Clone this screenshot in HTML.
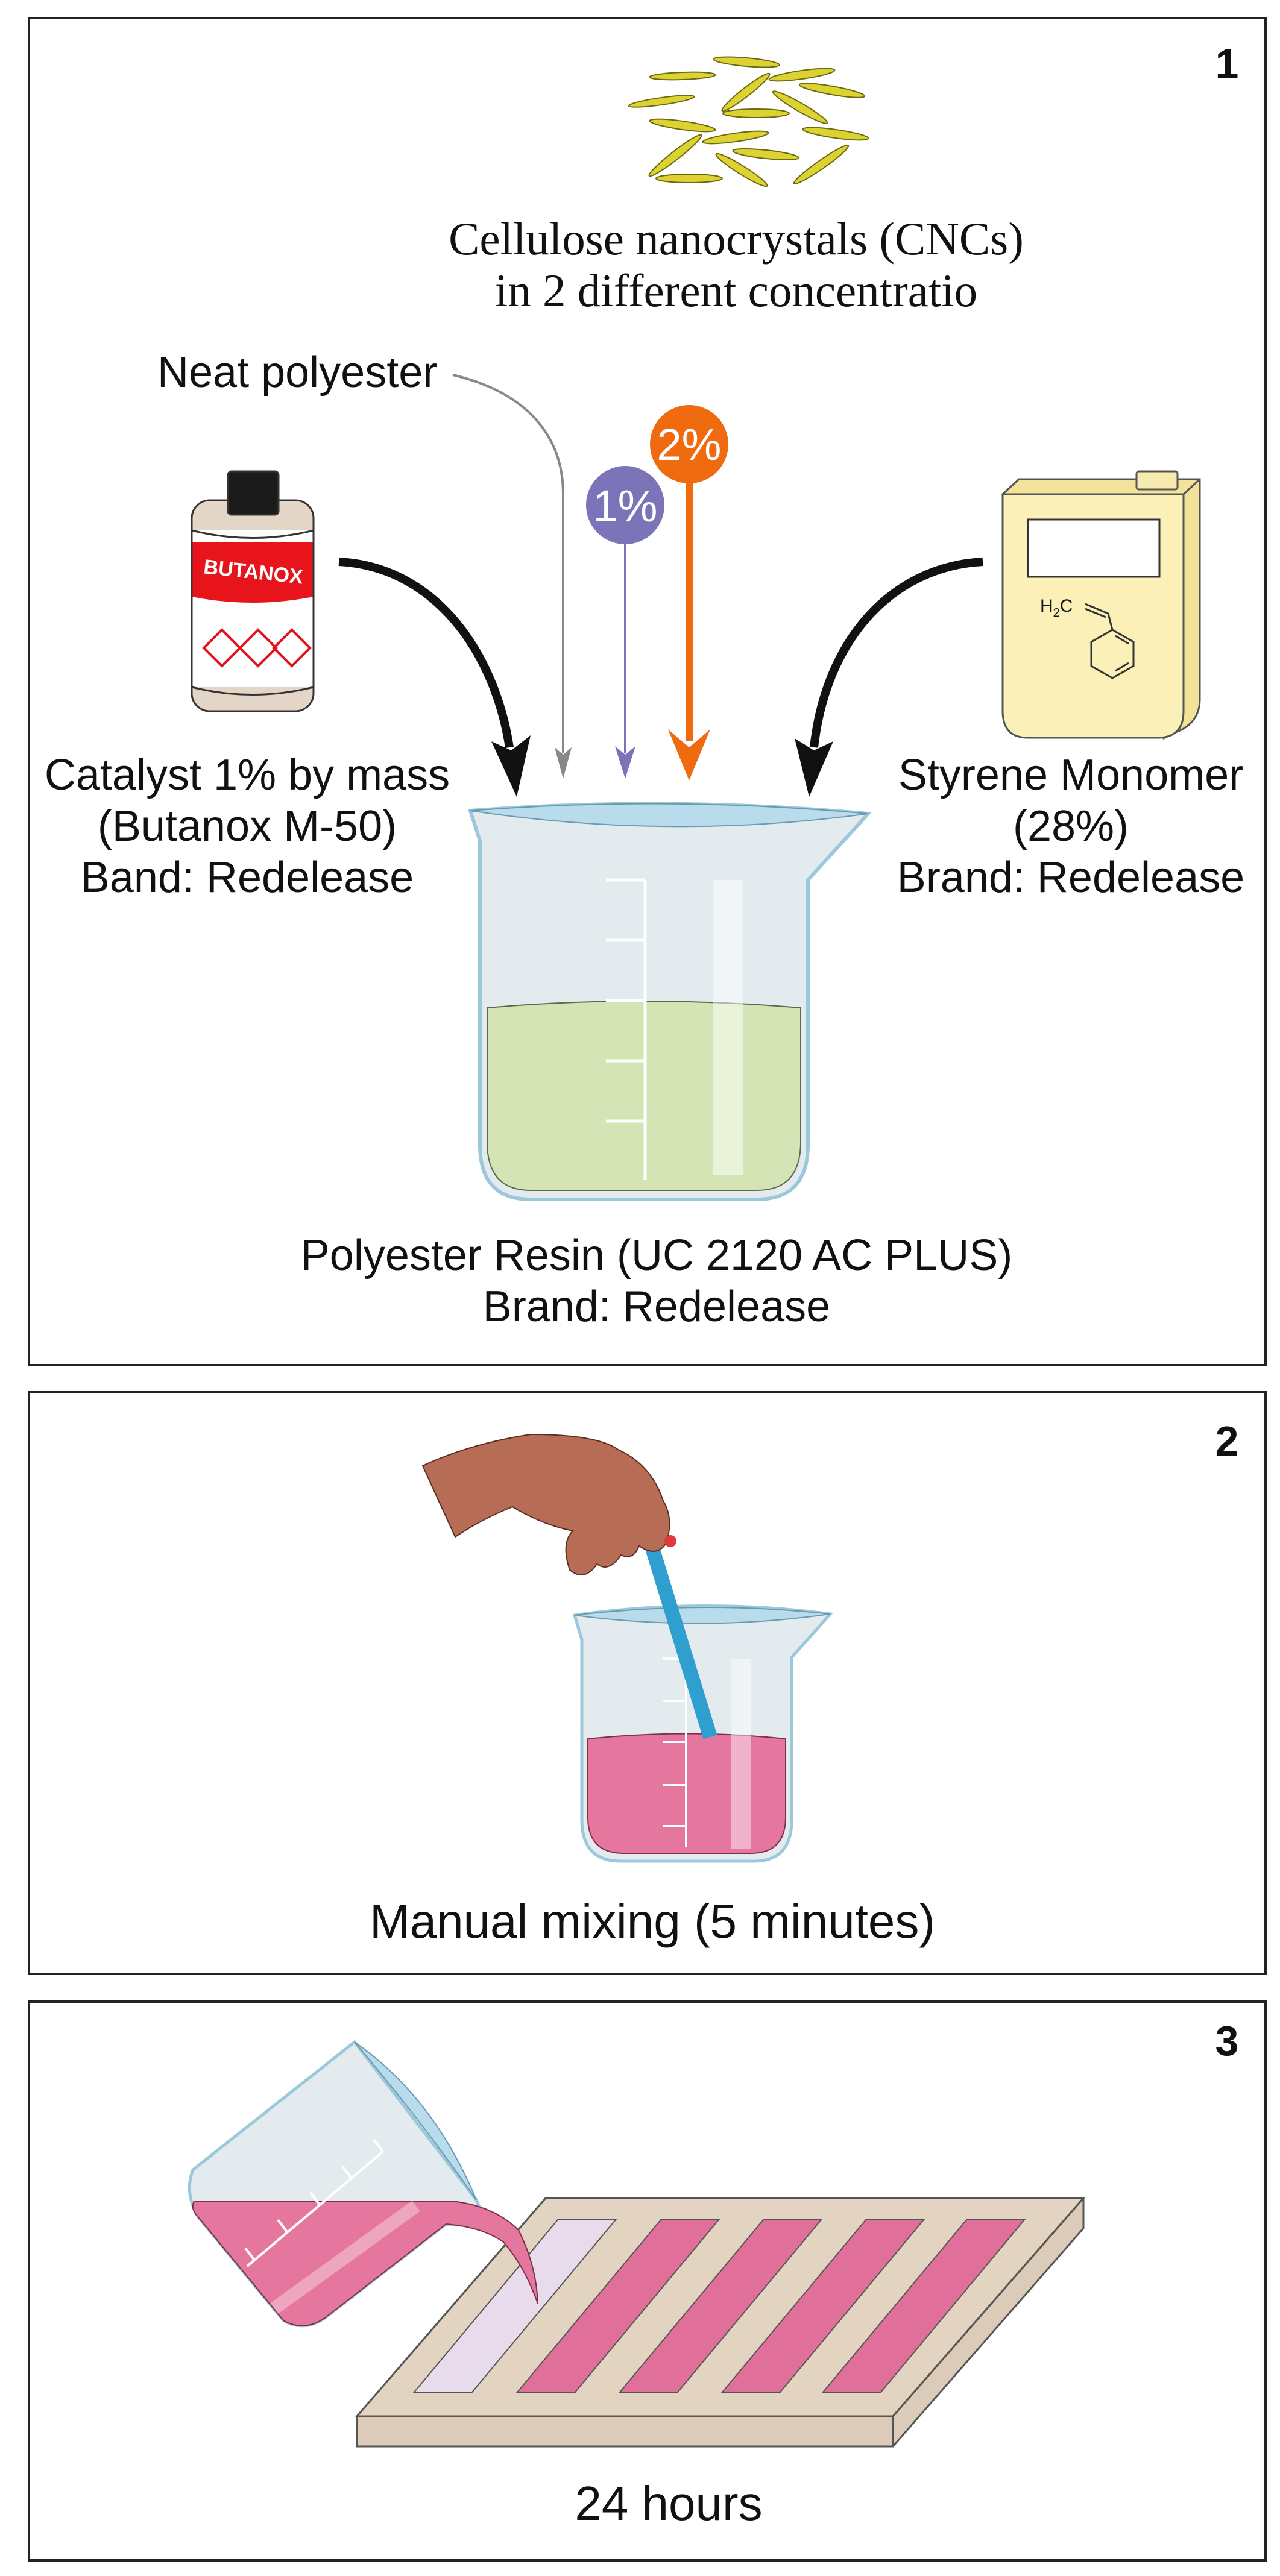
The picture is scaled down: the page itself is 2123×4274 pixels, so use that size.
<!DOCTYPE html>
<html><head><meta charset="utf-8"><style>
html,body{margin:0;padding:0;background:#fff}
svg{display:block}
.s{font-family:"Liberation Sans",Arial,sans-serif;fill:#111}
.r{font-family:"Liberation Serif","Times New Roman",serif;fill:#111}
</style></head><body>
<svg width="2123" height="4274" viewBox="0 0 2123 4274" xmlns="http://www.w3.org/2000/svg">
<!-- panels -->
<rect x="48" y="30" width="2051" height="2235" fill="#fff" stroke="#222" stroke-width="4"/>
<rect x="48" y="2310" width="2051" height="965" fill="#fff" stroke="#222" stroke-width="4"/>
<rect x="48" y="3321" width="2051" height="927" fill="#fff" stroke="#222" stroke-width="4"/>
<text x="2035" y="130" class="s" font-size="70" font-weight="bold" text-anchor="middle">1</text>
<text x="2035" y="2415" class="s" font-size="70" font-weight="bold" text-anchor="middle">2</text>
<text x="2035" y="3410" class="s" font-size="70" font-weight="bold" text-anchor="middle">3</text>

<!-- CNCs -->
<g fill="#dcd232" stroke="#6b6a10" stroke-width="2">
<ellipse cx="1238" cy="103" rx="55" ry="7" transform="rotate(5 1238 103)"/>
<ellipse cx="1132" cy="126" rx="55" ry="6" transform="rotate(-2 1132 126)"/>
<ellipse cx="1330" cy="124" rx="55" ry="7" transform="rotate(-8 1330 124)"/>
<ellipse cx="1237" cy="153" rx="50" ry="7" transform="rotate(-38 1237 153)"/>
<ellipse cx="1380" cy="150" rx="55" ry="7" transform="rotate(10 1380 150)"/>
<ellipse cx="1097" cy="168" rx="55" ry="6" transform="rotate(-8 1097 168)"/>
<ellipse cx="1254" cy="188" rx="55" ry="7"/>
<ellipse cx="1327" cy="178" rx="52" ry="7" transform="rotate(30 1327 178)"/>
<ellipse cx="1132" cy="208" rx="55" ry="7" transform="rotate(8 1132 208)"/>
<ellipse cx="1220" cy="228" rx="55" ry="7" transform="rotate(-8 1220 228)"/>
<ellipse cx="1386" cy="222" rx="55" ry="7" transform="rotate(8 1386 222)"/>
<ellipse cx="1120" cy="258" rx="55" ry="7" transform="rotate(-38 1120 258)"/>
<ellipse cx="1270" cy="256" rx="55" ry="7" transform="rotate(6 1270 256)"/>
<ellipse cx="1230" cy="282" rx="50" ry="7" transform="rotate(32 1230 282)"/>
<ellipse cx="1362" cy="273" rx="55" ry="7" transform="rotate(-35 1362 273)"/>
<ellipse cx="1143" cy="296" rx="55" ry="7"/>
</g>
<text x="1221" y="422" class="r" font-size="77" text-anchor="middle">Cellulose nanocrystals (CNCs)</text>
<text x="1221" y="508" class="r" font-size="77" text-anchor="middle">in 2 different concentratio</text>

<text x="261" y="642" class="s" font-size="72">Neat polyester</text>
<!-- gray arrow -->
<path d="M751 622 C870 650 934 720 934 820 L934 1250" fill="none" stroke="#888" stroke-width="4"/>
<path d="M920 1240 L934 1292 L948 1240 L934 1252 Z" fill="#888"/>
<!-- purple -->
<line x1="1037" y1="880" x2="1037" y2="1250" stroke="#7b74b8" stroke-width="4"/>
<path d="M1020 1238 L1037 1292 L1054 1238 L1037 1252 Z" fill="#7b74b8"/>
<circle cx="1037" cy="838" r="65" fill="#7b74b8"/>
<text x="1037" y="865" class="s" font-size="74" style="fill:#fff" text-anchor="middle">1%</text>
<!-- orange -->
<line x1="1143" y1="780" x2="1143" y2="1230" stroke="#f06a10" stroke-width="12"/>
<path d="M1108 1210 L1143 1295 L1178 1210 L1143 1240 Z" fill="#f06a10"/>
<circle cx="1143" cy="737" r="65" fill="#f06a10"/>
<text x="1143" y="763" class="s" font-size="74" style="fill:#fff" text-anchor="middle">2%</text>

<!-- bottle -->
<g stroke="#333" stroke-width="3">
<rect x="318" y="830" width="202" height="350" rx="30" fill="#e3d6c6"/>
<rect x="318" y="880" width="202" height="260" fill="#fff" stroke="none"/>
<path d="M318 900 L520 900 L520 990 Q419 1010 318 990 Z" fill="#e8141c" stroke="none"/>
<path d="M318 880 Q419 905 520 880" fill="none"/>
<path d="M318 1140 Q419 1165 520 1140" fill="none"/>
<line x1="318" y1="880" x2="318" y2="1140"/><line x1="520" y1="880" x2="520" y2="1140"/>
<rect x="378" y="782" width="84" height="72" rx="6" fill="#1b1b1b"/>
</g>
<text x="419" y="960" class="s" font-size="34" font-weight="bold" style="fill:#fff" text-anchor="middle" transform="rotate(6 419 960)">BUTANOX</text>
<g fill="none" stroke="#e0141c" stroke-width="4">
<path d="M338 1075 L368 1045 L398 1075 L368 1105 Z"/>
<path d="M398 1075 L428 1045 L458 1075 L428 1105 Z"/>
<path d="M458 1075 L488 1045 L518 1075 L488 1105 Z" transform="translate(-4 0)"/>
</g>

<!-- black curved arrows -->
<path d="M562 932 C720 940 820 1080 845 1240" fill="none" stroke="#111" stroke-width="14"/>
<path d="M815 1230 L857 1322 L880 1220 L848 1245 Z" fill="#111"/>
<path d="M1630 932 C1480 940 1370 1060 1350 1240" fill="none" stroke="#111" stroke-width="14"/>
<path d="M1318 1225 L1342 1322 L1382 1230 L1350 1245 Z" fill="#111"/>

<!-- canister -->
<g stroke="#555" stroke-width="3">
<path d="M1663 820 L1690 795 L1990 795 L1990 1160 Q1990 1200 1950 1215 L1930 1225 Z" fill="#f3e39a"/>
<rect x="1885" y="782" width="68" height="30" rx="4" fill="#f7ebb0"/>
<path d="M1663 820 L1963 820 L1963 1180 Q1963 1224 1920 1224 L1705 1224 Q1663 1224 1663 1180 Z" fill="#fbf0b8"/>
<line x1="1963" y1="820" x2="1990" y2="795"/>
<rect x="1705" y="862" width="218" height="95" fill="#fff" stroke="#333"/>
</g>
<text x="1725" y="1015" class="s" font-size="30">H<tspan font-size="20" dy="8">2</tspan><tspan dy="-8">C</tspan></text>
<g fill="none" stroke="#333" stroke-width="3">
<path d="M1800 1002 L1838 1018 L1845 1045"/>
<path d="M1800 1010 L1834 1024"/>
<path d="M1845 1045 L1880 1065 L1880 1105 L1845 1125 L1810 1105 L1810 1065 Z"/>
<path d="M1850 1055 L1872 1068 M1872 1100 L1850 1113"/>
</g>

<!-- side texts -->
<g class="s" font-size="72" text-anchor="middle">
<text x="410" y="1310">Catalyst 1% by mass</text>
<text x="410" y="1395">(Butanox M-50)</text>
<text x="410" y="1480">Band: Redelease</text>
<text x="1776" y="1310">Styrene Monomer</text>
<text x="1776" y="1395">(28%)</text>
<text x="1776" y="1480">Brand: Redelease</text>
</g>

<!-- beaker 1 -->
<g>
<path d="M780 1345 L796 1395 L796 1900 Q796 1990 880 1990 L1255 1990 Q1340 1990 1340 1900 L1340 1460 L1440 1350 Q1110 1320 780 1345 Z" fill="#e4ebef" stroke="#9cc8dc" stroke-width="6"/>
<path d="M808 1672 Q1060 1650 1328 1672 L1328 1895 Q1328 1975 1255 1975 L880 1975 Q808 1975 808 1895 Z" fill="#d4e4b4" stroke="#5d6a4a" stroke-width="2"/>
<path d="M780 1345 Q1110 1320 1440 1350 Q1110 1395 780 1345 Z" fill="#b9dcec" stroke="#6a9bb0" stroke-width="2"/>
<rect x="1183" y="1460" width="50" height="490" fill="#fff" opacity="0.5"/>
<g stroke="#fff" stroke-width="5" fill="none">
<line x1="1070" y1="1460" x2="1070" y2="1958"/>
<line x1="1005" y1="1460" x2="1070" y2="1460"/>
<line x1="1005" y1="1560" x2="1070" y2="1560"/>
<line x1="1005" y1="1660" x2="1070" y2="1660"/>
<line x1="1005" y1="1760" x2="1070" y2="1760"/>
<line x1="1005" y1="1860" x2="1070" y2="1860"/>
</g>
</g>
<text x="1089" y="2107" class="s" font-size="72" text-anchor="middle">Polyester Resin (UC 2120 AC PLUS)</text>
<text x="1089" y="2192" class="s" font-size="72" text-anchor="middle">Brand: Redelease</text>

<!-- panel 2 -->
<path d="M953 2680 L965 2720 L965 3020 Q965 3088 1030 3088 L1250 3088 Q1313 3088 1313 3020 L1313 2750 L1377 2678 Q1165 2650 953 2680 Z" fill="#e4ebef" stroke="#9cc8dc" stroke-width="5"/>
<path d="M975 2885 Q1140 2868 1303 2885 L1303 3015 Q1303 3075 1245 3075 L1035 3075 Q975 3075 975 3015 Z" fill="#e5769d" stroke="#7a3048" stroke-width="2"/>
<path d="M953 2680 Q1165 2655 1377 2678 Q1165 2708 953 2680 Z" fill="#b9dcec" stroke="#6a9bb0" stroke-width="2"/>
<rect x="1213" y="2752" width="32" height="315" fill="#fff" opacity="0.45"/>
<g stroke="#fff" stroke-width="4">
<line x1="1138" y1="2752" x2="1138" y2="3065"/>
<line x1="1100" y1="2752" x2="1138" y2="2752"/>
<line x1="1100" y1="2822" x2="1138" y2="2822"/>
<line x1="1100" y1="2890" x2="1138" y2="2890"/>
<line x1="1100" y1="2962" x2="1138" y2="2962"/>
<line x1="1100" y1="3030" x2="1138" y2="3030"/>
</g>
<line x1="1048" y1="2458" x2="1178" y2="2882" stroke="#2f9fd0" stroke-width="24"/>
<path d="M701 2432 Q780 2395 880 2380 Q990 2380 1025 2405 Q1080 2430 1100 2490 Q1118 2520 1105 2560 Q1090 2585 1060 2565 Q1050 2590 1030 2580 Q1010 2610 990 2595 Q970 2625 945 2605 Q930 2560 950 2540 Q900 2530 850 2500 Q800 2520 755 2550 Z" fill="#b66c55" stroke="#5a2e20" stroke-width="2"/>
<circle cx="1112" cy="2557" r="10" fill="#e23a3a"/>
<text x="1082" y="3215" class="s" font-size="80" text-anchor="middle">Manual mixing (5 minutes)</text>

<!-- panel 3 tray -->
<path d="M592 4009 L905 3647 L1797 3647 L1797 3697 L1481 4059 L592 4059 Z" fill="#dccbb8" stroke="#555" stroke-width="3"/>
<path d="M592 4009 L905 3647 L1797 3647 L1481 4009 Z" fill="#e3d4c2" stroke="#555" stroke-width="3"/>
<line x1="1481" y1="4009" x2="1481" y2="4059" stroke="#555" stroke-width="3"/>
<line x1="1481" y1="4009" x2="1797" y2="3647" stroke="#555" stroke-width="3"/>
<g stroke="#555" stroke-width="2">
<path d="M925 3683 L1021 3683 L783 3969 L687 3969 Z" fill="#e8dcec"/>
<path d="M1096 3683 L1192 3683 L954 3969 L858 3969 Z" fill="#e0709a"/>
<path d="M1266 3683 L1362 3683 L1124 3969 L1028 3969 Z" fill="#e0709a"/>
<path d="M1436 3683 L1532 3683 L1294 3969 L1198 3969 Z" fill="#e0709a"/>
<path d="M1603 3683 L1699 3683 L1461 3969 L1365 3969 Z" fill="#e0709a"/>
</g>
<!-- tilted beaker -->
<path d="M588 3388 L320 3600 Q305 3640 330 3680 L470 3850 Q505 3870 540 3845 L740 3690 L810 3695 L790 3650 Z" fill="#e4ebef" stroke="#9cc8dc" stroke-width="5"/>
<path d="M322 3652 L750 3652 Q820 3660 860 3700 Q890 3760 892 3822 Q870 3760 835 3720 Q800 3695 740 3690 L540 3845 Q505 3870 470 3850 L330 3680 Q315 3665 322 3652 Z" fill="#e5769d" stroke="#7a3048" stroke-width="2"/>
<path d="M588 3388 Q720 3480 790 3650 Q700 3520 588 3388 Z" fill="#b9dcec" stroke="#6a9bb0" stroke-width="2"/>
<line x1="455" y1="3830" x2="690" y2="3660" stroke="#fff" stroke-width="22" opacity="0.35"/>
<g stroke="#fff" stroke-width="4">
<line x1="410" y1="3760" x2="635" y2="3570"/>
<line x1="635" y1="3570" x2="620" y2="3550"/>
<line x1="583" y1="3614" x2="568" y2="3594"/>
<line x1="530" y1="3658" x2="515" y2="3638"/>
<line x1="476" y1="3703" x2="461" y2="3683"/>
<line x1="422" y1="3750" x2="407" y2="3730"/>
</g>
<text x="1109" y="4181" class="s" font-size="80" text-anchor="middle">24 hours</text>
</svg>
</body></html>
